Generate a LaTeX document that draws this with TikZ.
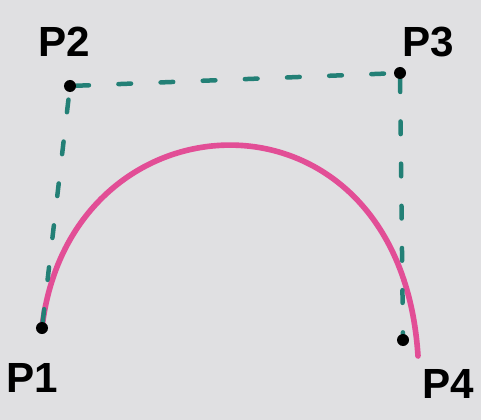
\documentclass[tikz,border=0pt]{standalone}
\usepackage{fontspec}
\setsansfont{Liberation Sans}
\usetikzlibrary{positioning, backgrounds}

\definecolor{board}{RGB}{224,224,226}
\definecolor{marker}{RGB}{35,128,118}
\definecolor{pinkpen}{RGB}{226,78,150}

\begin{document}
\begin{tikzpicture}[
  x=0.025cm, y=-0.025cm,
  pt/.style={circle, fill=black, minimum size=0.3cm, inner sep=0pt},
  plabel/.style={font=\sffamily\bfseries\fontsize{30}{30}\selectfont, text=black},
  hull/.style={marker, line width=3.2pt, line cap=round, dash pattern=on 9pt off 21pt},
  curve/.style={pinkpen, line width=4pt, line cap=round},
]
\useasboundingbox (0,0) rectangle (481,420);

% --- control points ---
\node[pt] (p1) at (42,328) {};
\node[pt] (p2) at (70,86) {};
\node[pt] (p3) at (400,73) {};
\node[pt] (p4) at (403,340) {};
\coordinate (p4end) at (418,356);

% --- labels ---
\node[plabel] (l2) at (64,42) {P2};
\node[plabel] (l3) at (428,42) {P3};
\node[plabel] (l1) at (32,378) {P1};
\node[plabel] (l4) at (448,384) {P4};

\begin{scope}[on background layer]
\fill[board] (0,0) rectangle (481,420);

% --- curve ---
\draw[curve] (p1.center) .. controls (p2.center) and (p3.center) .. (p4end);

% --- control polygon ---
\draw[hull] (p1) -- (p2);
\draw[hull] (p2) -- (p3);
\draw[hull] (p3) -- (p4);
\end{scope}

\end{tikzpicture}
\end{document}
